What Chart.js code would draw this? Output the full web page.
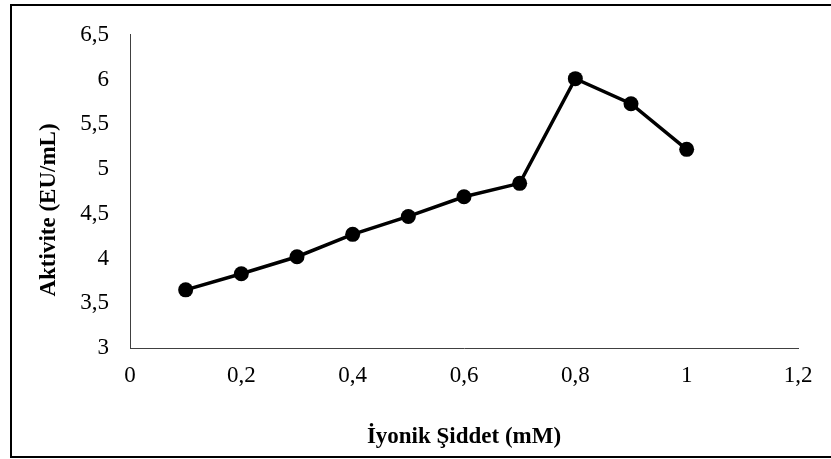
<!DOCTYPE html>
<html>
<head>
<meta charset="utf-8">
<script src="https://cdn.jsdelivr.net/npm/chart.js@4"></script>
<style>
  html, body { margin: 0; padding: 0; background: #fff; }
  #wrap { width: 831px; height: 459px; position: relative; }
</style>
</head>
<body>
<div id="wrap"><canvas id="chart-1"></canvas></div>
<script>
// ionic strength (mM) and measured activity (EU/mL)
const xValues = [0.1, 0.2, 0.3, 0.4, 0.5, 0.6, 0.7, 0.8, 0.9, 1.0];
const yValues = [3.65, 3.83, 4.02, 4.27, 4.47, 4.69, 4.84, 6.01, 5.73, 5.22];

const xTitle = "İyonik Şiddet (mM)";
const yTitle = "Aktivite (EU/mL)";

const serif = "'Liberation Serif', 'Times New Roman', serif";

function comma(v) {
  return String(+Number(v).toFixed(1)).replace(".", ",");
}

// outer frame + rotated y title
const framePlugin = {
  id: "frame",
  beforeDraw(chart) {
    const ctx = chart.ctx;
    ctx.save();
    ctx.fillStyle = "#fff";
    ctx.fillRect(0, 0, chart.width, chart.height);
    ctx.strokeStyle = "#000";
    ctx.lineWidth = 2;
    ctx.beginPath();
    ctx.moveTo(chart.width + 2, 5);
    ctx.lineTo(11, 5);
    ctx.lineTo(11, 457);
    ctx.lineTo(chart.width + 2, 457);
    ctx.stroke();
    ctx.restore();
  },
  afterDraw(chart) {
    const ctx = chart.ctx;
    ctx.save();
    ctx.translate(49, 210);
    ctx.rotate(-Math.PI / 2);
    ctx.font = "bold 23px " + serif;
    ctx.fillStyle = "#000";
    ctx.textAlign = "center";
    ctx.textBaseline = "middle";
    ctx.fillText(yTitle, 0, 0);
    ctx.restore();
  }
};

new Chart("chart-1", {
  type: "line",
  data: {
    datasets: [{
      data: xValues.map((x, i) => ({ x: x, y: yValues[i] })),
      borderColor: "#000",
      backgroundColor: "#000",
      borderWidth: 3.5,
      pointRadius: 7.5,
      pointHoverRadius: 7.5,
      pointBackgroundColor: "#000",
      pointBorderWidth: 0,
      fill: false,
      tension: 0
    }]
  },
  plugins: [framePlugin],
  options: {
    responsive: true,
    maintainAspectRatio: false,
    animation: false,
    events: [],
    layout: { padding: { left: 0, top: 33, right: 33, bottom: 0 } },
    plugins: {
      legend: { display: false },
      tooltip: { enabled: false }
    },
    scales: {
      x: {
        type: "linear",
        min: 0,
        max: 1.2,
        afterFit(scale) { scale.height = 111; },
        grid: { display: false, drawTicks: false },
        border: { display: true, color: "#404040", width: 1 },
        ticks: {
          stepSize: 0.2,
          padding: 14,
          color: "#000",
          font: { family: serif, size: 23 },
          callback: (v) => comma(v)
        },
        title: {
          display: true,
          text: xTitle,
          color: "#000",
          font: { family: serif, size: 23, weight: "bold" },
          padding: { top: 0, bottom: 8 }
        }
      },
      y: {
        min: 3,
        max: 6.5,
        afterFit(scale) { scale.width = 130; },
        grid: { display: false, drawTicks: false },
        border: { display: true, color: "#404040", width: 1 },
        ticks: {
          stepSize: 0.5,
          padding: 21,
          color: "#000",
          font: { family: serif, size: 23 },
          callback: (v) => comma(v)
        }
      }
    }
  }
});
</script>
</body>
</html>
